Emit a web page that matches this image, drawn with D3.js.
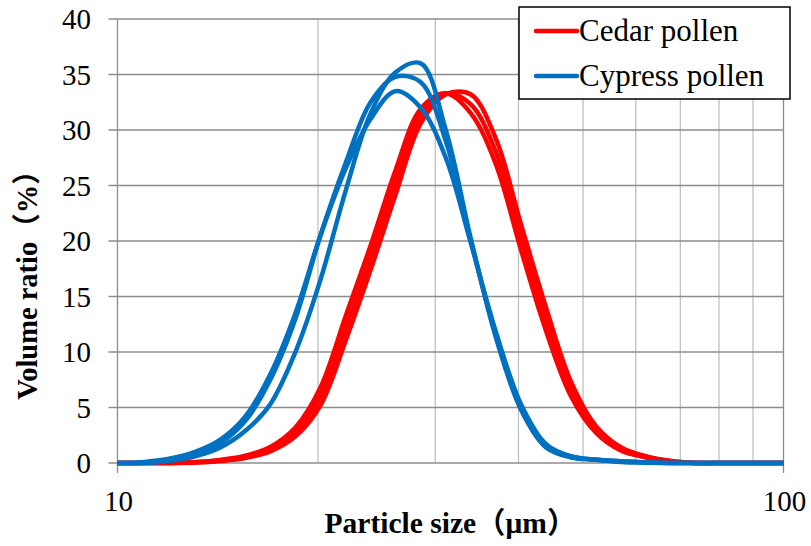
<!DOCTYPE html>
<html><head><meta charset="utf-8">
<script src="https://cdn.jsdelivr.net/npm/d3@7"></script>
<style>body{margin:0;background:#fff;}svg{display:block;}</style>
</head><body>
<svg id="c" width="811" height="546"></svg>
<script>
const sizes = [10, 10.09, 11.00, 12.00, 13.08, 14.27, 15.56, 16.96, 18.50, 20.17, 22.00, 23.99, 26.16, 28.53, 31.11, 33.93, 37.00, 40.35, 44.00, 47.98, 52.33, 57.06, 62.23, 67.86, 74.00, 80.70, 88.00, 95.96, 100];
const cedar1 = [0, 0,0,0,0.04,0.18,0.45,1.05,2.4,5.2,11.0,17.4,24.2,30.6,33.2,33.2,29.2,21.5,14.0,7.3,3.3,1.4,0.6,0.18,0,0,0,0, 0];
const cedar2 = [0, 0,0,0,0.06,0.22,0.55,1.25,2.8,6.0,12.1,18.5,25.3,31.3,33.3,32.3,28.0,20.3,12.9,6.6,3.0,1.2,0.55,0.15,0,0,0,0, 0];
const cedar3 = [0, 0,0,0,0.08,0.28,0.65,1.45,3.2,6.8,13.2,19.6,26.4,31.9,33.3,31.5,26.9,19.2,11.9,6.0,2.7,1.1,0.5,0.12,0,0,0,0, 0];
const cypress1 = [0, 0,0,0.2,0.6,1.4,2.9,5.3,10.0,16.5,24.5,31.5,35.2,36.0,30.0,20.2,11.3,4.8,1.4,0.5,0.3,0.1,0.03,0,0,0,0,0, 0];
const cypress2 = [0, 0,0.05,0.3,0.8,1.8,3.8,7.5,13.0,20.5,27.0,32.5,34.8,34.3,29.0,20.0,11.5,5.0,1.5,0.6,0.3,0.15,0.05,0,0,0,0,0, 0];
const cypress3 = [0, 0,0.1,0.4,1.0,2.1,4.2,8.0,13.5,20.5,26.5,31.0,33.5,32.0,27.5,19.8,11.8,5.3,1.7,0.6,0.3,0.15,0.05,0,0,0,0,0, 0];
const yTicks = [0,5,10,15,20,25,30,35,40];
const xMajor = [10,100];
const xMinor = [20,30,40,50,60,70,80,90];
const seriesNames = ["Cedar pollen","Cypress pollen"];
const seriesColors = ["#ff0000","#0070c0"];
const xTitle = "Particle size（μm）";
const yTitle = "Volume ratio（%）";

const svg = d3.select("#c");
const L = 117.5, R = 783.5, T = 19, B = 463;
const x = d3.scaleLog().domain([10,100]).range([L,R]);
const y = d3.scaleLinear().domain([0,40]).range([B,T]);
const serif = "'Liberation Serif','Times New Roman','Noto Sans CJK JP',serif";

// minor vertical gridlines
svg.append("g").selectAll("line").data(xMinor).join("line")
  .attr("x1",d=>x(d)).attr("x2",d=>x(d)).attr("y1",T).attr("y2",B)
  .attr("stroke","#c0c0c0").attr("stroke-width",1.3);
// major vertical
svg.append("g").selectAll("line").data(xMajor).join("line")
  .attr("x1",d=>x(d)).attr("x2",d=>x(d)).attr("y1",T).attr("y2",B+10)
  .attr("stroke","#8c8c8c").attr("stroke-width",1.3);
// horizontal gridlines + ticks
svg.append("g").selectAll("line").data(yTicks).join("line")
  .attr("x1",L-9).attr("x2",R).attr("y1",d=>y(d)).attr("y2",d=>y(d))
  .attr("stroke","#8c8c8c").attr("stroke-width",1.3);

// y labels
svg.append("g").selectAll("text").data(yTicks).join("text")
  .attr("x",91).attr("y",d=>y(d)+10).attr("text-anchor","end")
  .attr("font-family",serif).attr("font-size",29).attr("fill","#000").text(d=>d);
// x labels
svg.append("g").selectAll("text").data(xMajor).join("text")
  .attr("x",d=>x(d)+1).attr("y",511).attr("text-anchor","middle")
  .attr("font-family",serif).attr("font-size",29).attr("fill","#000").text(d=>d);

// lines
const line = d3.line().x((d,i)=>x(sizes[i])).y(d=>y(d)).curve(d3.curveCatmullRom.alpha(0.5));
const groups = [[cedar1,cedar2,cedar3],[cypress1,cypress2,cypress3]];
groups.forEach((g,gi)=>{
  svg.append("g").selectAll("path").data(g).join("path")
    .attr("d",d=>line(d)).attr("fill","none")
    .attr("stroke",seriesColors[gi]).attr("stroke-width",4.5).attr("stroke-linejoin","round");
});

// axis titles
svg.append("text").attr("x",(L+R)/2).attr("y",533).attr("text-anchor","middle")
  .attr("font-family",serif).attr("font-weight","bold").attr("font-size",29.5).text(xTitle);
svg.append("text").attr("transform","translate(37,278) rotate(-90)").attr("text-anchor","middle")
  .attr("font-family",serif).attr("font-weight","bold").attr("font-size",28.5).text(yTitle);

// legend
const lg = svg.append("g");
lg.append("rect").attr("x",519).attr("y",7).attr("width",271).attr("height",92)
  .attr("fill","#fff").attr("stroke","#000").attr("stroke-width",1.5);
seriesNames.forEach((n,i)=>{
  const yy = [31,76][i];
  lg.append("line").attr("x1",536).attr("x2",577).attr("y1",yy).attr("y2",yy)
    .attr("stroke",seriesColors[i]).attr("stroke-width",4.5).attr("stroke-linecap","round");
  lg.append("text").attr("x",579).attr("y",yy+10).attr("font-family",serif)
    .attr("font-size",31).attr("fill","#000").text(n);
});
</script>
</body></html>
